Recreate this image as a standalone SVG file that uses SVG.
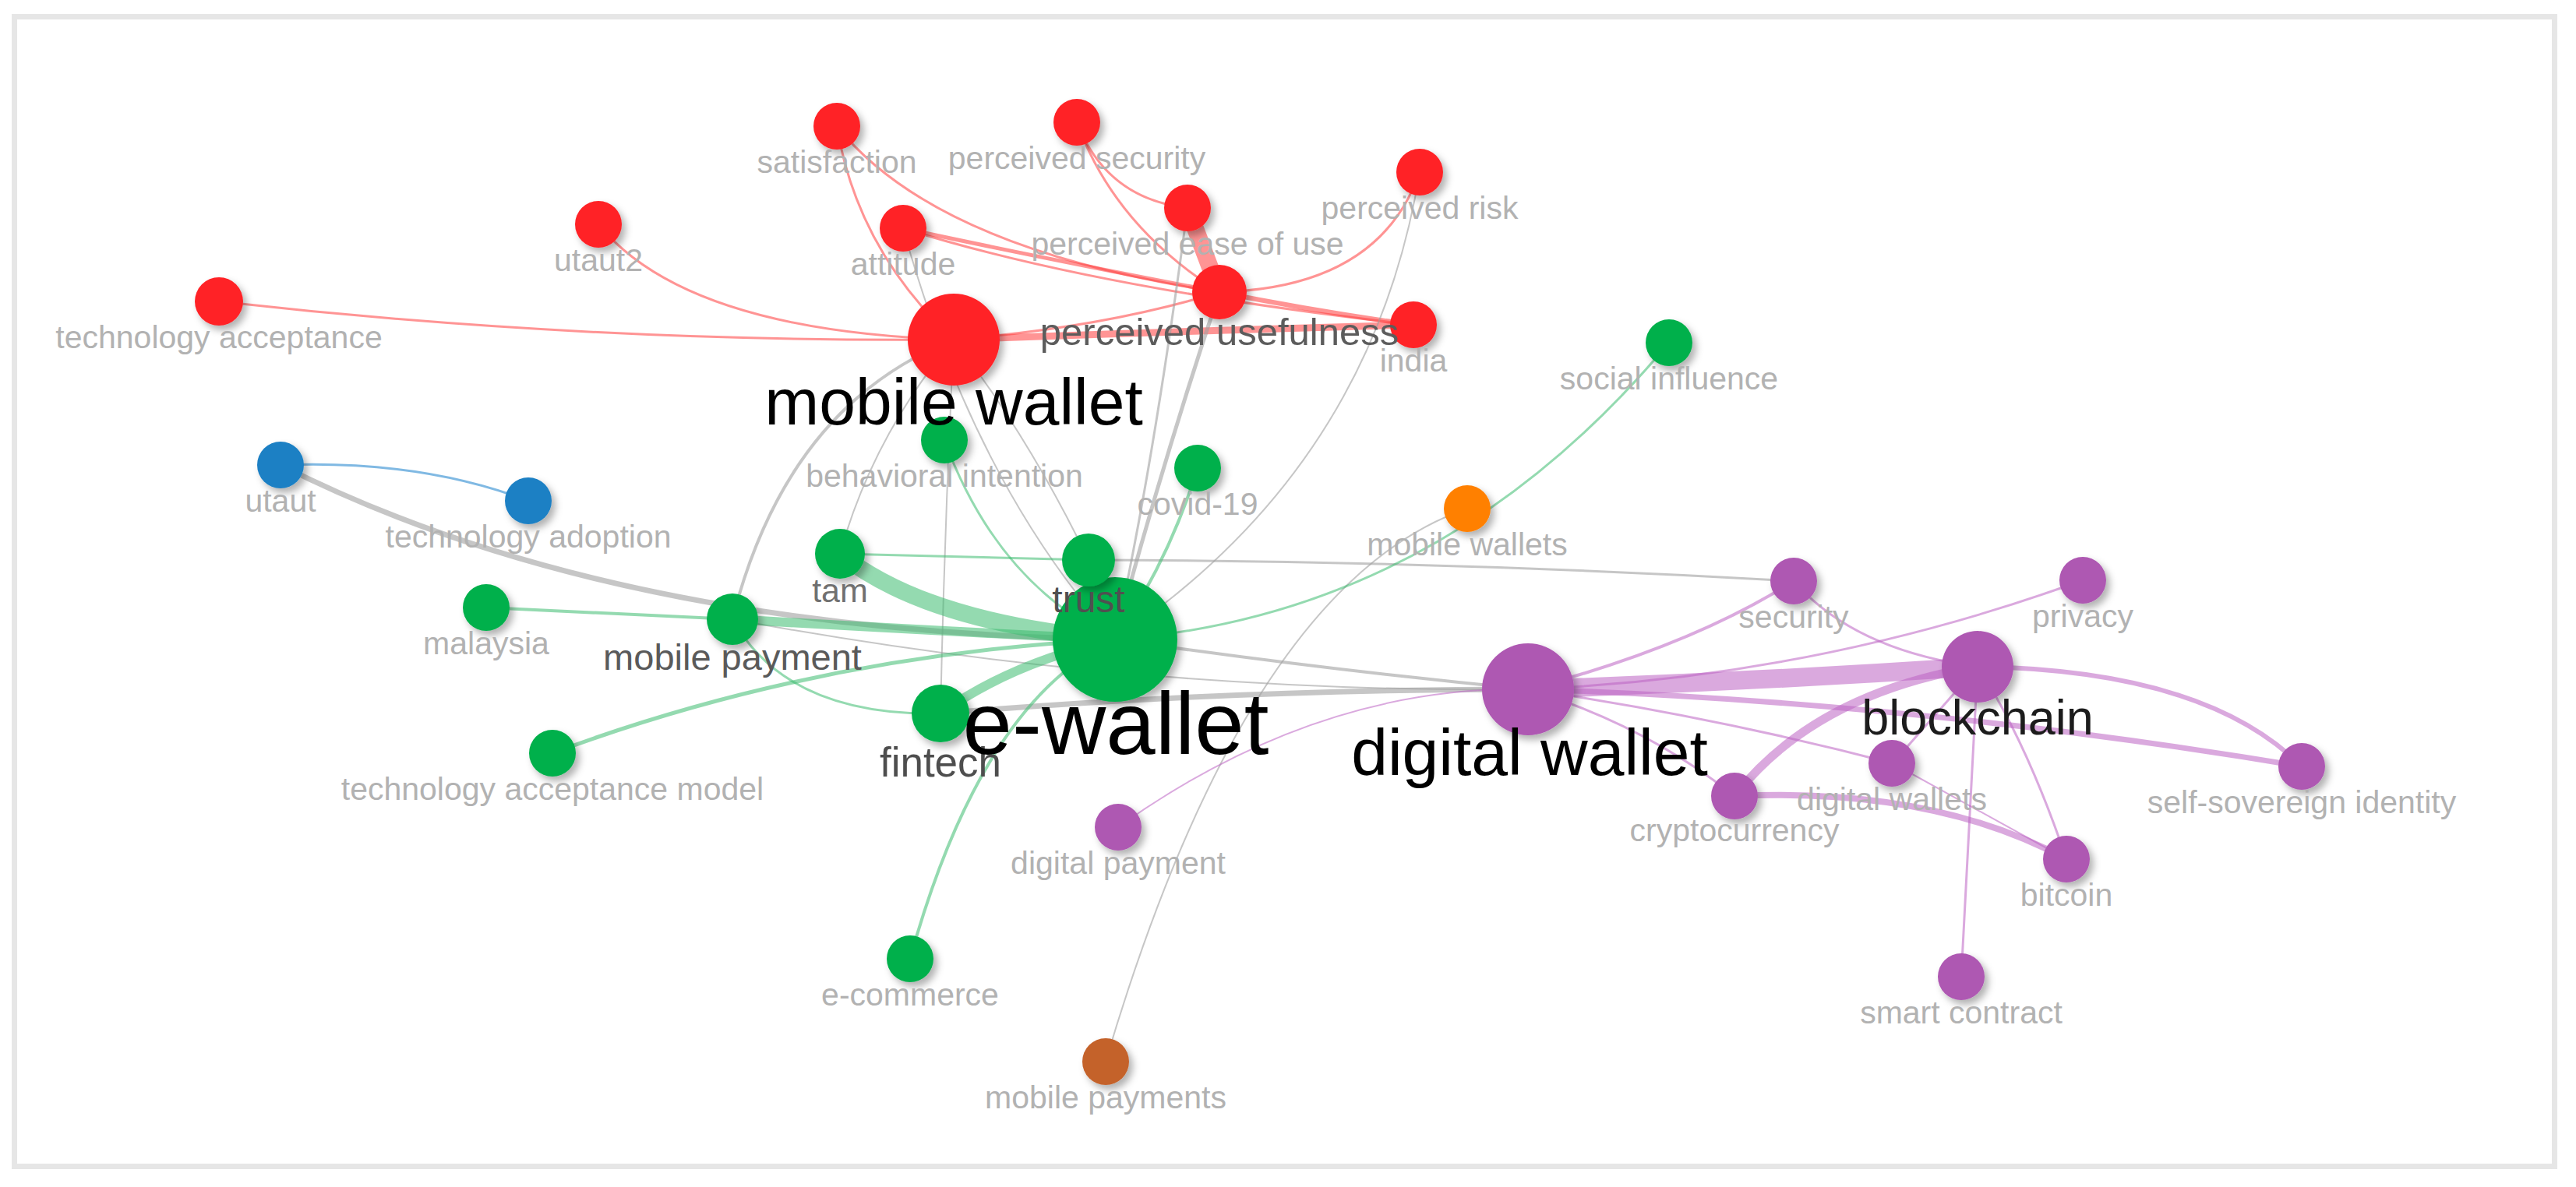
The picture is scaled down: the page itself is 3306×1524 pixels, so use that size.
<svg xmlns="http://www.w3.org/2000/svg" width="3306" height="1524" viewBox="0 0 3306 1524">
<defs>
<filter id="sh" x="-50%" y="-50%" width="200%" height="200%">
<feDropShadow dx="5" dy="6" stdDeviation="5" flood-color="#000" flood-opacity="0.3"/>
</filter>
<style>
.e{fill:none;stroke-linecap:round}
.er{stroke:#ff3c3c;stroke-opacity:0.55}
.eg{stroke:#3cbb70;stroke-opacity:0.55}
.ep{stroke:#bb62c2;stroke-opacity:0.55}
.ex{stroke:#a0a0a0;stroke-opacity:0.6}
.eb{stroke:#2b8ad0;stroke-opacity:0.6}
.n{filter:url(#sh)}
.red{fill:#ff2328}
.green{fill:#00b04c}
.blue{fill:#1f80c4}
.orange{fill:#ff8000}
.brown{fill:#c4622c}
.purple{fill:#ae58b2}
text{font-family:"Liberation Sans",Arial,sans-serif;text-anchor:middle}
.l{font-size:41px;fill:#b2b2b2}
</style>
</defs>
<rect x="18.5" y="21.5" width="3260" height="1476" fill="#fff" stroke="#e6e6e6" stroke-width="7"/>
<g id="connectors">
<path class="e er" stroke-width="3" d="M281,387 Q750,440 1224,436"/>
<path class="e er" stroke-width="3" d="M768,288 Q880,425 1224,436"/>
<path class="e er" stroke-width="3" d="M1074,162 Q1100,320 1224,436"/>
<path class="e er" stroke-width="3" d="M1074,162 Q1200,320 1565,375"/>
<path class="e er" stroke-width="5" d="M1159,293 Q1330,330 1565,375"/>
<path class="e er" stroke-width="3" d="M1159,293 Q1400,370 1814,417"/>
<path class="e er" stroke-width="3" d="M1382,157 Q1430,290 1565,375"/>
<path class="e er" stroke-width="3" d="M1382,157 Q1420,255 1524,267"/>
<path class="e er" stroke-width="22" d="M1524,267 L1565,375"/>
<path class="e er" stroke-width="3" d="M1822,221 Q1770,370 1565,375"/>
<path class="e er" stroke-width="9" d="M1224,436 Q1520,425 1814,417"/>
<path class="e er" stroke-width="6" d="M1565,375 Q1690,400 1814,417"/>
<path class="e er" stroke-width="3" d="M1224,436 Q1420,420 1565,375"/>
<path class="e ex" stroke-width="7" d="M360,597 Q780,810 1431,821"/>
<path class="e ex" stroke-width="4" d="M1224,436 Q1010,520 940,795"/>
<path class="e ex" stroke-width="2" d="M1224,436 Q1120,560 1078,711"/>
<path class="e ex" stroke-width="2" d="M1224,436 Q1212,680 1207,916"/>
<path class="e ex" stroke-width="2" d="M1224,436 Q1320,560 1397,719"/>
<path class="e ex" stroke-width="2" d="M1159,293 Q1250,620 1431,821"/>
<path class="e ex" stroke-width="5" d="M1565,375 Q1490,600 1431,821"/>
<path class="e ex" stroke-width="3" d="M1524,267 Q1480,600 1431,821"/>
<path class="e ex" stroke-width="2" d="M1822,221 Q1760,600 1431,821"/>
<path class="e ex" stroke-width="2" d="M1883,653 Q1600,750 1419,1363"/>
<path class="e ex" stroke-width="3" d="M1397,719 Q1850,720 2302,746"/>
<path class="e ex" stroke-width="4" d="M1431,821 Q1700,860 1961,885"/>
<path class="e ex" stroke-width="7" d="M1207,916 Q1580,885 1961,885"/>
<path class="e ex" stroke-width="2" d="M940,795 Q1450,890 1961,885"/>
<path class="e eg" stroke-width="22" d="M1078,711 Q1190,800 1431,821"/>
<path class="e eg" stroke-width="3" d="M1078,711 L1397,719"/>
<path class="e eg" stroke-width="4" d="M624,780 L940,795"/>
<path class="e eg" stroke-width="12" d="M940,795 Q1200,810 1431,821"/>
<path class="e eg" stroke-width="3" d="M940,795 Q1010,920 1207,916"/>
<path class="e eg" stroke-width="5" d="M709,967 Q1050,840 1431,821"/>
<path class="e eg" stroke-width="12" d="M1207,916 Q1300,850 1431,821"/>
<path class="e eg" stroke-width="4" d="M1168,1231 Q1260,900 1431,821"/>
<path class="e eg" stroke-width="3" d="M1212,565 Q1280,750 1431,821"/>
<path class="e eg" stroke-width="4" d="M1537,601 Q1500,720 1431,821"/>
<path class="e eg" stroke-width="3" d="M1431,821 Q1850,790 2142,440"/>
<path class="e eg" stroke-width="6" d="M1397,719 L1431,821"/>
<path class="e eb" stroke-width="3" d="M360,597 Q540,590 678,643"/>
<path class="e ep" stroke-width="24" d="M1961,885 Q2250,875 2538,856"/>
<path class="e ep" stroke-width="4" d="M1961,885 Q2170,830 2302,746"/>
<path class="e ep" stroke-width="3" d="M1961,885 Q2330,870 2673,745"/>
<path class="e ep" stroke-width="7" d="M1961,885 Q2450,900 2954,984"/>
<path class="e ep" stroke-width="3" d="M1961,885 Q2200,920 2429,980"/>
<path class="e ep" stroke-width="3" d="M1961,885 Q2110,930 2226,1022"/>
<path class="e ep" stroke-width="2" d="M1961,885 Q1690,880 1435,1062"/>
<path class="e ep" stroke-width="11" d="M2538,856 Q2330,890 2226,1022"/>
<path class="e ep" stroke-width="3" d="M2538,856 Q2380,835 2302,746"/>
<path class="e ep" stroke-width="6" d="M2538,856 Q2830,860 2954,984"/>
<path class="e ep" stroke-width="3" d="M2538,856 L2517,1254"/>
<path class="e ep" stroke-width="3" d="M2538,856 Q2600,950 2652,1103"/>
<path class="e ep" stroke-width="3" d="M2538,856 L2429,980"/>
<path class="e ep" stroke-width="8" d="M2226,1022 Q2480,1010 2652,1103"/>
<path class="e ep" stroke-width="2" d="M2429,980 L2652,1103"/>
</g>
<g id="node-satisfaction"><circle class="n red" cx="1074" cy="162" r="30"/><text class="l" x="1074" y="222">satisfaction</text></g>
<g id="node-perceived-security"><circle class="n red" cx="1382" cy="157" r="30"/><text class="l" x="1382" y="217">perceived security</text></g>
<g id="node-perceived-risk"><circle class="n red" cx="1822" cy="221" r="30"/><text class="l" x="1822" y="281">perceived risk</text></g>
<g id="node-utaut2"><circle class="n red" cx="768" cy="288" r="30"/><text class="l" x="768" y="348">utaut2</text></g>
<g id="node-attitude"><circle class="n red" cx="1159" cy="293" r="30"/><text class="l" x="1159" y="353">attitude</text></g>
<g id="node-perceived-ease-of-use"><circle class="n red" cx="1524" cy="267" r="30"/><text class="l" x="1524" y="327">perceived ease of use</text></g>
<g id="node-technology-acceptance"><circle class="n red" cx="281" cy="387" r="31"/><text class="l" x="281" y="447">technology acceptance</text></g>
<g id="node-india"><circle class="n red" cx="1814" cy="417" r="30"/><text class="l" x="1814" y="477">india</text></g>
<g id="node-perceived-usefulness"><circle class="n red" cx="1565" cy="375" r="35"/><text x="1565" y="443" font-size="49" fill="#5c5c5c">perceived usefulness</text></g>
<g id="node-social-influence"><circle class="n green" cx="2142" cy="440" r="30"/><text class="l" x="2142" y="500">social influence</text></g>
<g id="node-behavioral-intention"><circle class="n green" cx="1212" cy="565" r="30"/><text class="l" x="1212" y="625">behavioral intention</text></g>
<g id="node-mobile-wallet"><circle class="n red" cx="1224" cy="436" r="59"/><text x="1224" y="545" font-size="84" fill="#000">mobile wallet</text></g>
<g id="node-covid-19"><circle class="n green" cx="1537" cy="601" r="30"/><text class="l" x="1537" y="661">covid-19</text></g>
<g id="node-tam"><circle class="n green" cx="1078" cy="711" r="32"/><text x="1078" y="773" font-size="43" fill="#707070">tam</text></g>
<g id="node-malaysia"><circle class="n green" cx="624" cy="780" r="30"/><text class="l" x="624" y="840">malaysia</text></g>
<g id="node-mobile-payment"><circle class="n green" cx="940" cy="795" r="33"/><text x="940" y="860" font-size="47" fill="#5a5a5a">mobile payment</text></g>
<g id="node-technology-acceptance-model"><circle class="n green" cx="709" cy="967" r="30"/><text class="l" x="709" y="1027">technology acceptance model</text></g>
<g id="node-e-commerce"><circle class="n green" cx="1168" cy="1231" r="30"/><text class="l" x="1168" y="1291">e-commerce</text></g>
<g id="node-utaut"><circle class="n blue" cx="360" cy="597" r="30"/><text class="l" x="360" y="657">utaut</text></g>
<g id="node-technology-adoption"><circle class="n blue" cx="678" cy="643" r="30"/><text class="l" x="678" y="703">technology adoption</text></g>
<g id="node-mobile-wallets"><circle class="n orange" cx="1883" cy="653" r="30"/><text class="l" x="1883" y="713">mobile wallets</text></g>
<g id="node-mobile-payments"><circle class="n brown" cx="1419" cy="1363" r="30"/><text class="l" x="1419" y="1423">mobile payments</text></g>
<g id="node-fintech"><circle class="n green" cx="1207" cy="916" r="37"/><text x="1207" y="997" font-size="53" fill="#4e4e4e">fintech</text></g>
<g id="node-e-wallet"><circle class="n green" cx="1431" cy="821" r="80"/><text x="1432" y="968" font-size="114" fill="#000">e-wallet</text></g>
<g id="node-trust"><circle class="n green" cx="1397" cy="719" r="34"/><text x="1397" y="786" font-size="48" fill="#505050">trust</text></g>
<g id="node-security"><circle class="n purple" cx="2302" cy="746" r="30"/><text class="l" x="2302" y="806">security</text></g>
<g id="node-privacy"><circle class="n purple" cx="2673" cy="745" r="30"/><text class="l" x="2673" y="805">privacy</text></g>
<g id="node-digital-wallets"><circle class="n purple" cx="2428" cy="980" r="30"/><text class="l" x="2428" y="1040">digital wallets</text></g>
<g id="node-self-sovereign-identity"><circle class="n purple" cx="2954" cy="984" r="30"/><text class="l" x="2954" y="1044">self-sovereign identity</text></g>
<g id="node-cryptocurrency"><circle class="n purple" cx="2226" cy="1022" r="30"/><text class="l" x="2226" y="1080">cryptocurrency</text></g>
<g id="node-digital-payment"><circle class="n purple" cx="1435" cy="1062" r="30"/><text class="l" x="1435" y="1122">digital payment</text></g>
<g id="node-bitcoin"><circle class="n purple" cx="2652" cy="1103" r="30"/><text class="l" x="2652" y="1163">bitcoin</text></g>
<g id="node-smart-contract"><circle class="n purple" cx="2517" cy="1254" r="30"/><text class="l" x="2517" y="1314">smart contract</text></g>
<g id="node-digital-wallet"><circle class="n purple" cx="1961" cy="885" r="59"/><text x="1963" y="995" font-size="84" fill="#000">digital wallet</text></g>
<g id="node-blockchain"><circle class="n purple" cx="2538" cy="856" r="46"/><text x="2538" y="943" font-size="63" fill="#1c1c1c">blockchain</text></g>
</svg>
